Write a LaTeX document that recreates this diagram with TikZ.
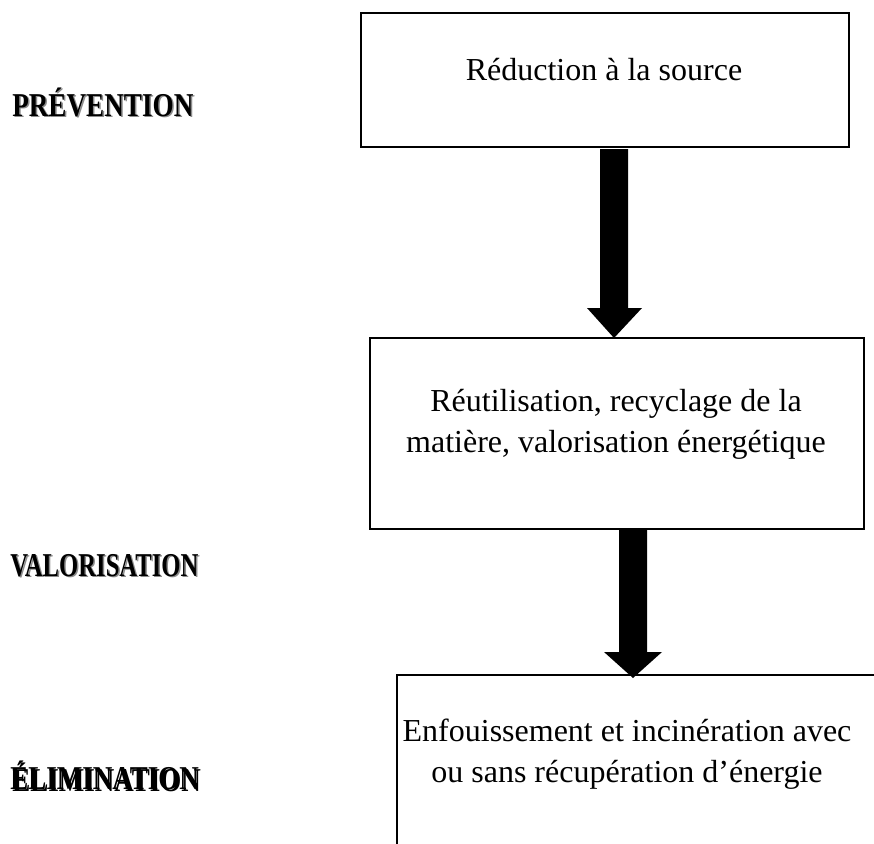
\documentclass[tikz,border=0pt]{standalone}
\usepackage{fontspec}
\usepackage{graphicx}
\setmainfont{Liberation Serif}
\usetikzlibrary{calc}
\begin{document}
\begin{tikzpicture}[x=0.75pt,y=-0.75pt,
  boxline/.style={draw=black, line width=1.5pt, line join=miter},
  framebox/.style={boxline, rectangle, inner sep=0pt, anchor=north west},
  boxtext/.style={font=\fontsize{24}{30.5}\selectfont, align=center, inner sep=0pt},
  blockarrow/.style={fill=black, draw=none},
  lvl/.style={font=\fontsize{25}{30}\selectfont\bfseries, inner sep=0pt, anchor=base west},
  lvlshadow/.style={lvl, text=black!45}]
\useasboundingbox (0,0) rectangle (874,843);

% boxes
\node[framebox, minimum width=366pt, minimum height=100.5pt] (b1) at (360,12) {};
\node[framebox, minimum width=370.5pt, minimum height=143.25pt] (b2) at (369,337) {};
\coordinate (b3) at (397,675);
\draw[boxline] (397,880) -- (b3) -- (900,675);

% texts
\node[boxtext, anchor=base] (t1) at (604,80) {Réduction à la source};
\node[boxtext] (t2) at (616,424) {Réutilisation, recyclage de la\\matière, valorisation énergétique};
\node[boxtext] (t3) at (627,754) {Enfouissement et incinération avec\\ou sans récupération d’énergie};

% arrows
\coordinate (a1s) at (614,149);
\coordinate (a1e) at (614,338);
\fill[blockarrow] ($(a1s)+(-14,0)$) -- ($(a1s)+(14,0)$) -- ($(a1e)+(14,-30)$) -- ($(a1e)+(28,-30)$) -- (a1e) -- ($(a1e)+(-27,-30)$) -- ($(a1e)+(-14,-30)$) -- cycle;
\coordinate (a2s) at (633,530);
\coordinate (a2e) at (633,678);
\fill[blockarrow] ($(a2s)+(-14,0)$) -- ($(a2s)+(14,0)$) -- ($(a2e)+(14,-26)$) -- ($(a2e)+(29,-26)$) -- (a2e) -- ($(a2e)+(-29,-26)$) -- ($(a2e)+(-14,-26)$) -- cycle;

% level labels
\node[lvlshadow] at (13.5,117.5) {\scalebox{0.815}[1]{PRÉVENTION}};
\node[lvl] (l1) at (12,116) {\scalebox{0.815}[1]{PRÉVENTION}};
\node[lvlshadow] at (11.5,577.5) {\scalebox{0.74}[1]{VALORISATION}};
\node[lvl] (l2) at (10,576) {\scalebox{0.74}[1]{VALORISATION}};
\node[lvl, text=black] at (12,791) {\scalebox{0.81}[1]{ÉLIMINATION}};
\node[lvl] (l3) at (10,789) {\scalebox{0.81}[1]{ÉLIMINATION}};
\end{tikzpicture}
\end{document}
